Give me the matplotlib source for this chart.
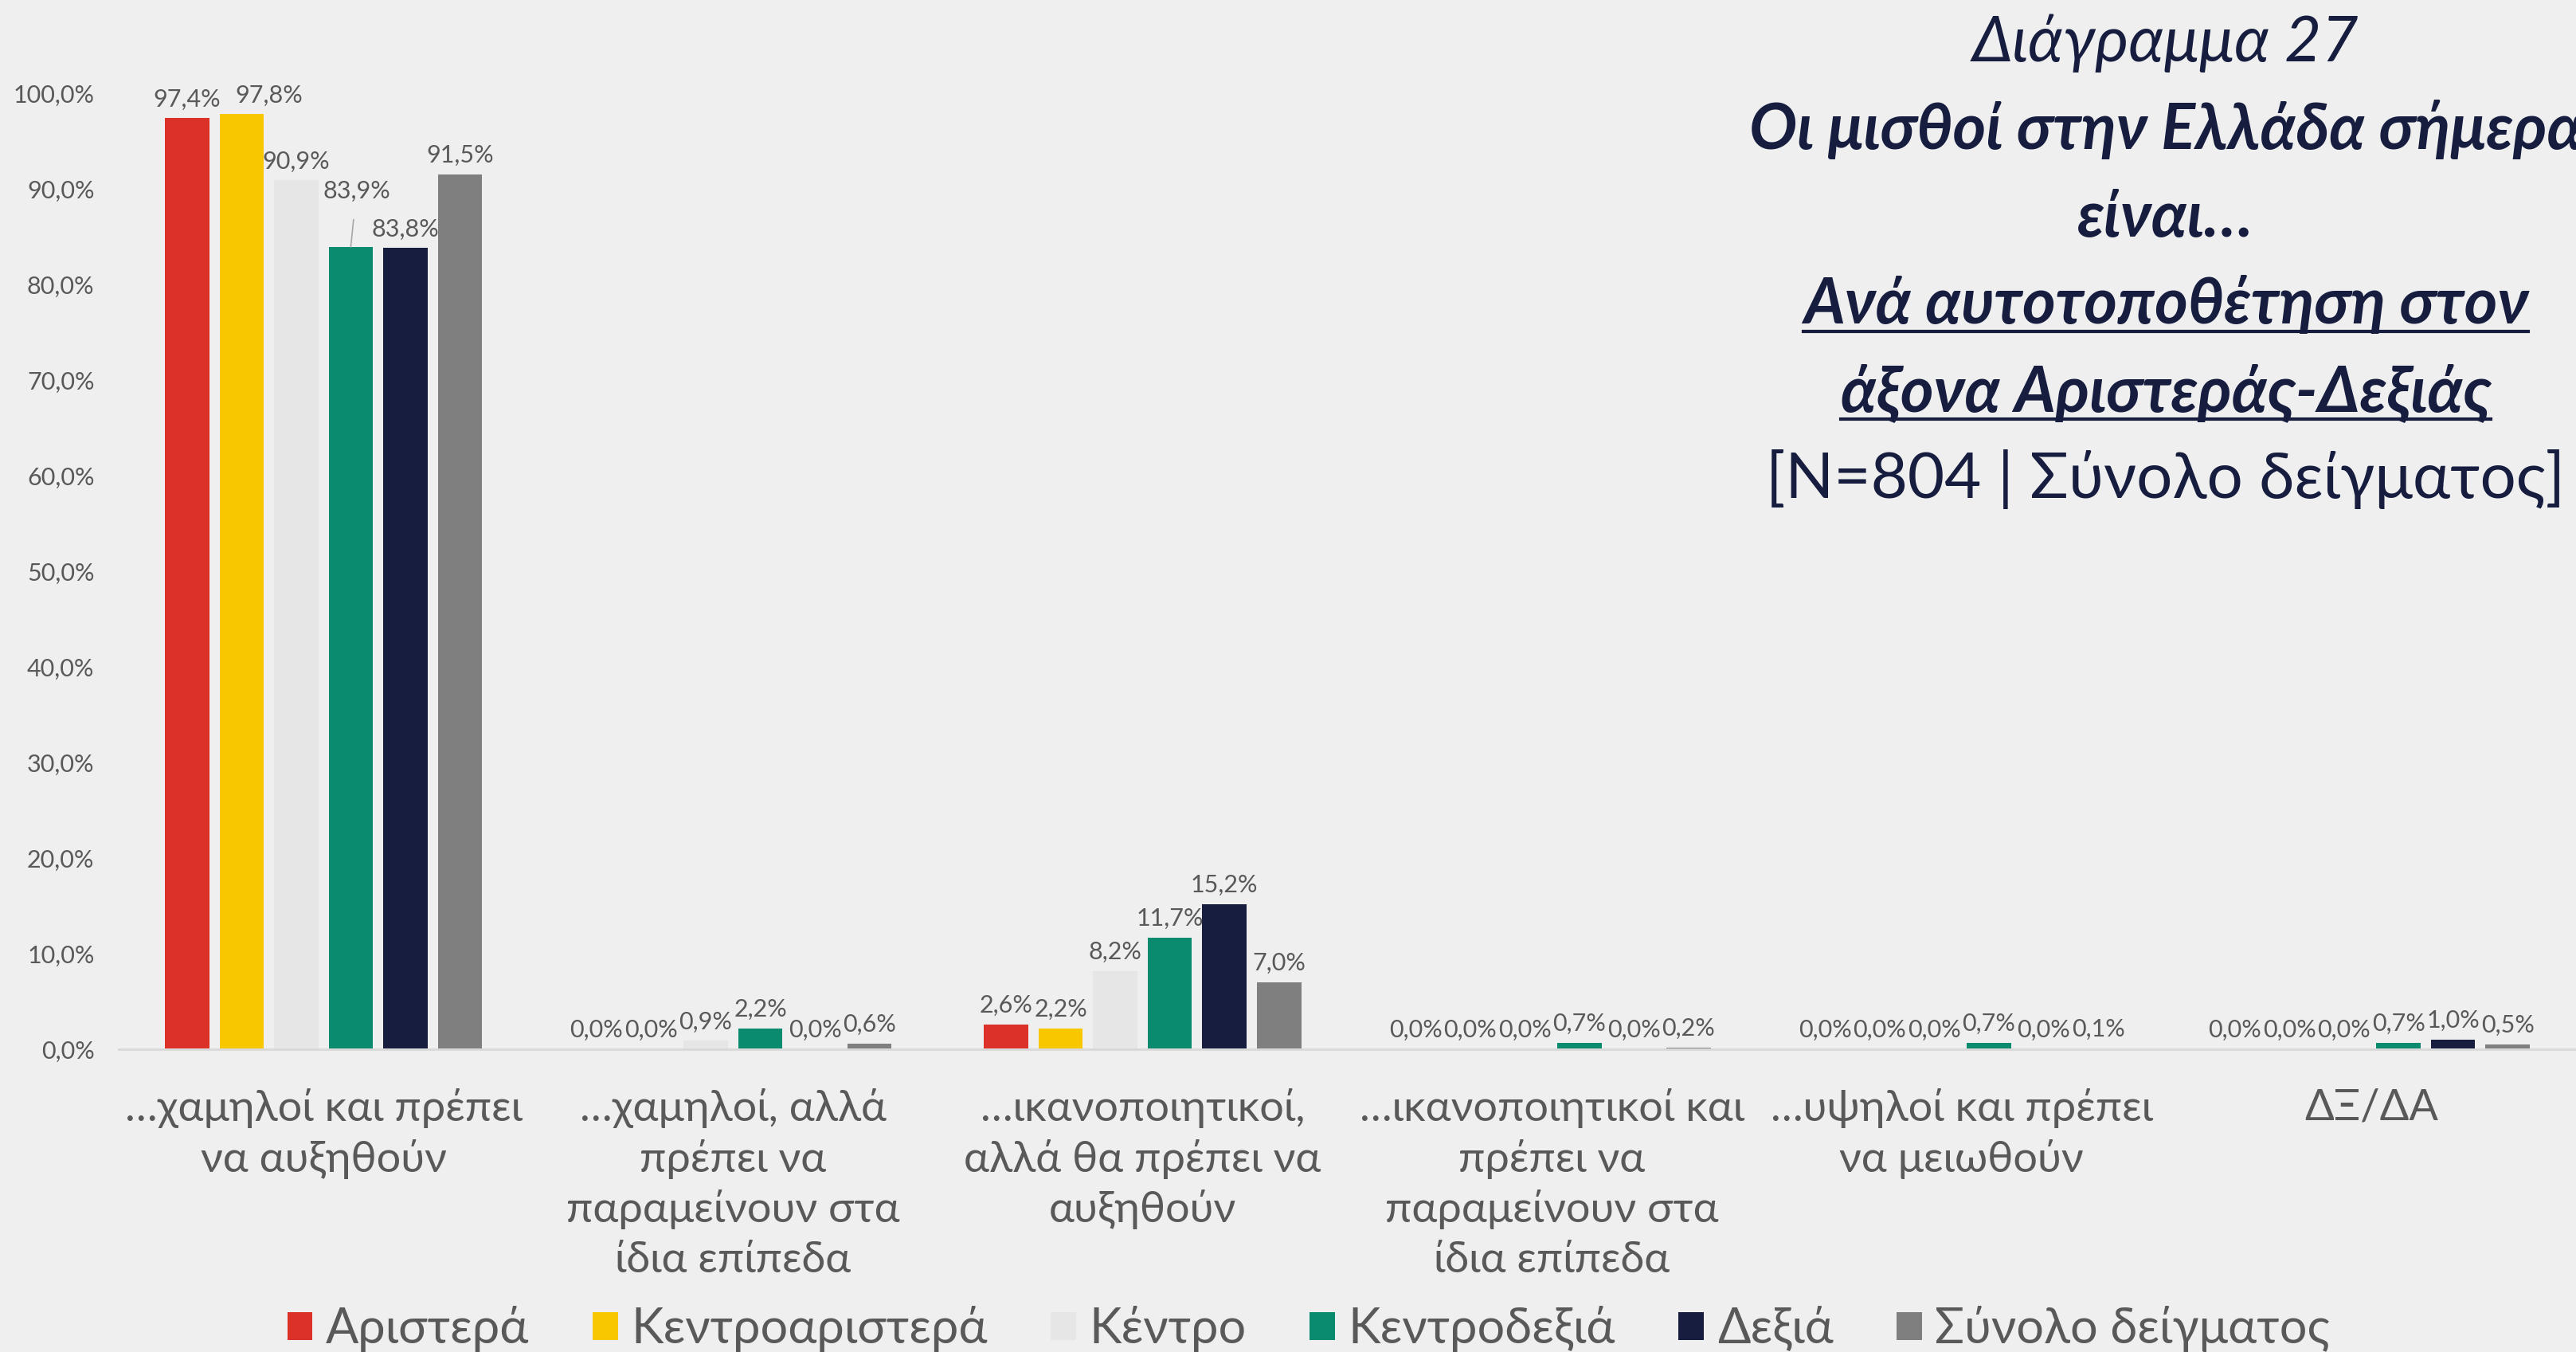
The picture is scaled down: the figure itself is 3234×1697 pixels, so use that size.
import matplotlib
matplotlib.use("Agg")
import matplotlib.pyplot as plt
from matplotlib.patches import Patch
from matplotlib.lines import Line2D
import numpy as np

plt.rcParams['font.family'] = ['Lato', 'DejaVu Sans']

categories = [
    "…χαμηλοί και πρέπει\nνα αυξηθούν",
    "…χαμηλοί, αλλά\nπρέπει να\nπαραμείνουν στα\nίδια επίπεδα",
    "…ικανοποιητικοί,\nαλλά θα πρέπει να\nαυξηθούν",
    "…ικανοποιητικοί και\nπρέπει να\nπαραμείνουν στα\nίδια επίπεδα",
    "…υψηλοί και πρέπει\nνα μειωθούν",
    "ΔΞ/ΔΑ",
]
series_names = ["Αριστερά", "Κεντροαριστερά", "Κέντρο", "Κεντροδεξιά", "Δεξιά", "Σύνολο δείγματος"]
aristera = [97.4, 0.0, 2.6, 0.0, 0.0, 0.0]
kentroaristera = [97.8, 0.0, 2.2, 0.0, 0.0, 0.0]
kentro = [90.9, 0.9, 8.2, 0.0, 0.0, 0.0]
kentrodexia = [83.9, 2.2, 11.7, 0.7, 0.7, 0.7]
dexia = [83.8, 0.0, 15.2, 0.0, 0.0, 1.0]
synolo = [91.5, 0.6, 7.0, 0.2, 0.1, 0.5]
series_values = [aristera, kentroaristera, kentro, kentrodexia, dexia, synolo]
colors = ["#DC3129", "#F9C700", "#E6E6E6", "#0A8A6E", "#161D3F", "#7F7F7F"]
yticks = [0, 10, 20, 30, 40, 50, 60, 70, 80, 90, 100]

bg = "#EFEFEF"
txt = "#595959"
navy = "#161D3F"

W, H = 3234, 1697
fig = plt.figure(figsize=(W / 100, H / 100), dpi=100, facecolor=bg)
ax = fig.add_axes([149 / W, 1 - 1317 / H, 1 - 149 / W, (1317 - 117) / H])
ax.set_facecolor(bg)

x = np.arange(len(categories))
slot = 0.1333
bw = 0.108
for i, (name, vals, c) in enumerate(zip(series_names, series_values, colors)):
    xs = x + (i - 2.5) * slot
    ax.bar(xs, vals, width=bw, color=c, label=name, zorder=2)
    for j, (xx, v) in enumerate(zip(xs, vals)):
        lab = f"{v:.1f}%".replace(".", ",")
        if i == 3 and j == 0:
            ax.annotate(lab, xy=(xx, v), xytext=(xx + 0.014, v + 5.9),
                        ha="center", va="center", fontsize=22, color=txt,
                        arrowprops=dict(arrowstyle="-", color="#A6A6A6", lw=1.2,
                                        shrinkA=14, shrinkB=0),
                        annotation_clip=False)
        elif i == 1 and j == 0:
            ax.annotate(lab, xy=(xx, v), xytext=(25, 7), textcoords="offset points",
                        ha="center", va="bottom", fontsize=22, color=txt,
                        annotation_clip=False)
        else:
            ax.annotate(lab, xy=(xx, v), xytext=(0, 7), textcoords="offset points",
                        ha="center", va="bottom", fontsize=22, color=txt,
                        annotation_clip=False)

ax.set_xlim(-0.5, len(categories) - 0.5)
ax.set_ylim(0, 100)
ax.set_yticks(yticks)
ax.set_yticklabels([f"{t:.1f}%".replace(".", ",") for t in yticks])
ax.set_xticks(x)
ax.set_xticklabels(categories, linespacing=1.34)
ax.tick_params(axis="y", length=0, pad=22, labelsize=22, labelcolor=txt)
ax.tick_params(axis="x", length=0, pad=35, labelsize=39, labelcolor=txt)
for s in ["top", "right", "left"]:
    ax.spines[s].set_visible(False)
ax.spines["bottom"].set_color("#D9D9D9")
ax.spines["bottom"].set_linewidth(2.2)

handles = [Patch(facecolor=c, edgecolor="none") for c in colors]
fig.legend(handles, series_names, loc="center", bbox_to_anchor=(0.508, 1 - 1668 / H),
           ncol=6, frameon=False, fontsize=44, labelcolor=txt,
           handlelength=0.52, handleheight=0.52, handletextpad=0.27,
           columnspacing=1.3, borderaxespad=0, borderpad=0)

# Title block
cx = 2719 / W
title_lines = [
    ("Διάγραμμα 27", "normal", False, 77),
    ("Οι μισθοί στην Ελλάδα σήμερα", "bold", False, 187),
    ("είναι…", "bold", False, 297),
    ("Ανά αυτοτοποθέτηση στον", "bold", True, 406),
    ("άξονα Αριστεράς-Δεξιάς", "bold", True, 516),
]
texts = []
for s, wgt, ul, yb in title_lines:
    t = fig.text(cx, 1 - yb / H, s, ha="center", va="baseline", fontsize=57.5,
                 fontstyle="italic", fontweight=wgt, color=navy)
    texts.append((t, ul, yb))
fig.text(cx, 1 - 625 / H, "[N=804 | Σύνολο δείγματος]", ha="center", va="baseline",
         fontsize=57.5, color=navy)

fig.canvas.draw()
r = fig.canvas.get_renderer()
for t, ul, yb in texts:
    if ul:
        bb = t.get_window_extent(r)
        yy = 1 - (yb + 10) / H
        fig.add_artist(Line2D([bb.x0 / W, bb.x1 / W], [yy, yy], transform=fig.transFigure,
                              color=navy, lw=3))

fig.savefig("out.png", dpi=100, facecolor=bg)
